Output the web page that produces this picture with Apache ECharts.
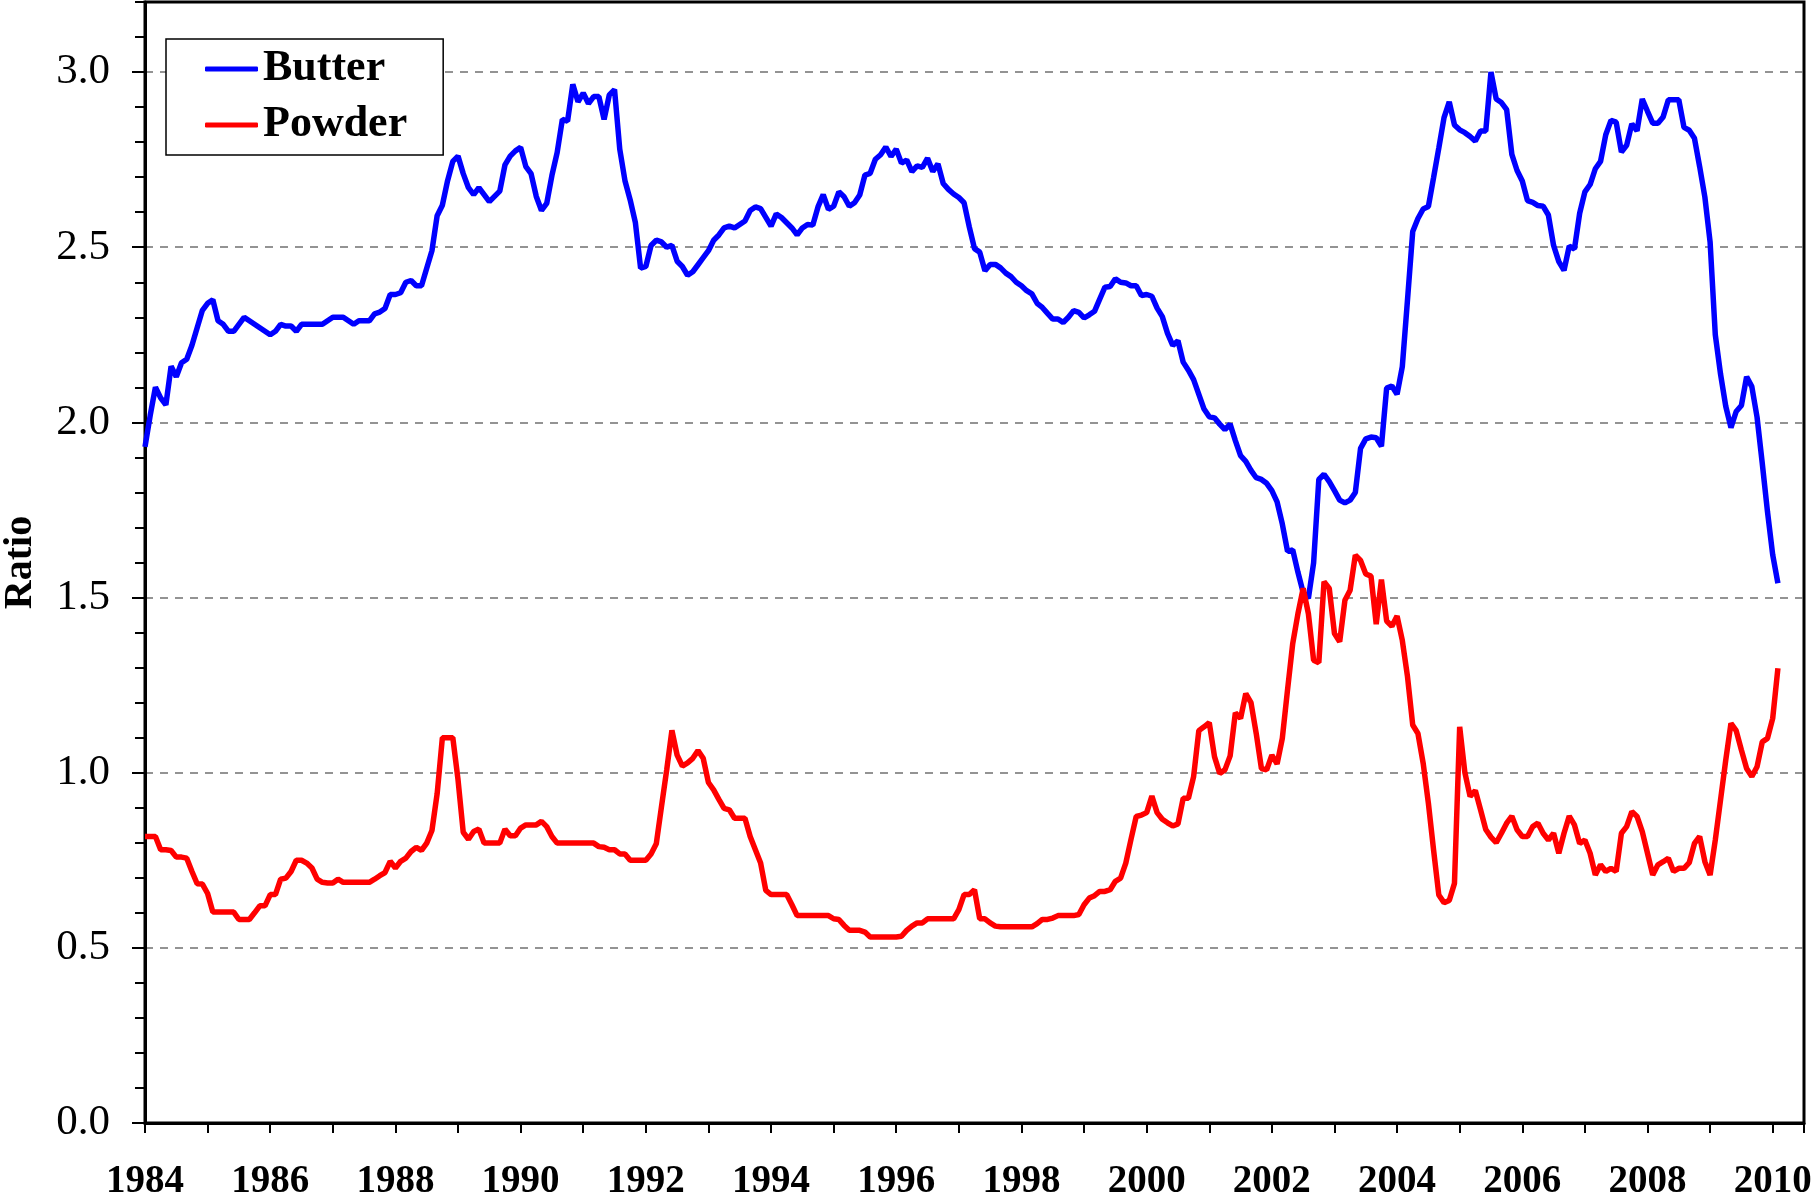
<!DOCTYPE html>
<html>
<head>
<meta charset="utf-8">
<title>Butter / Powder ratio</title>
<script src="https://cdn.jsdelivr.net/npm/echarts@6/dist/echarts.min.js"></script>
<style>
  html, body { margin: 0; padding: 0; background: #fff; }
  #main { width: 1812px; height: 1199px; }
</style>
</head>
<body>
<div id="main"></div>
<script>
// monthly series, first point = Jan 1984
const startYear = 1984;
const labelYears = [1984, 1986, 1988, 1990, 1992, 1994, 1996, 1998, 2000, 2002, 2004, 2006, 2008, 2010];

const butter = [
  1.93, 2.02, 2.10, 2.07, 2.05, 2.16, 2.13, 2.17, 2.18, 2.22, 2.27, 2.32,
  2.34, 2.35, 2.29, 2.28, 2.26, 2.26, 2.28, 2.30, 2.29, 2.28, 2.27, 2.26,
  2.25, 2.26, 2.28, 2.275, 2.275, 2.26, 2.28, 2.28, 2.28, 2.28, 2.28, 2.29,
  2.30, 2.30, 2.30, 2.29, 2.28, 2.29, 2.29, 2.29, 2.31, 2.315, 2.325, 2.365,
  2.365, 2.37, 2.40, 2.405, 2.39, 2.39, 2.44, 2.49, 2.59, 2.62, 2.69, 2.745,
  2.76, 2.71, 2.67, 2.65, 2.67, 2.65, 2.63, 2.645, 2.66, 2.735, 2.76, 2.775,
  2.785, 2.73, 2.71, 2.645, 2.605, 2.625, 2.705, 2.77, 2.865, 2.86, 2.965, 2.915,
  2.94, 2.91, 2.93, 2.93, 2.865, 2.935, 2.95, 2.78, 2.69, 2.635, 2.57, 2.44,
  2.445, 2.505, 2.52, 2.515, 2.50, 2.505, 2.46, 2.445, 2.42, 2.43, 2.45, 2.47,
  2.49, 2.52, 2.535, 2.555, 2.56, 2.555, 2.565, 2.575, 2.605, 2.615, 2.61, 2.585,
  2.56, 2.595, 2.585, 2.57, 2.555, 2.535, 2.555, 2.565, 2.563, 2.615, 2.65, 2.608,
  2.617, 2.658, 2.644, 2.617, 2.627, 2.649, 2.706, 2.711, 2.751, 2.764, 2.786, 2.759,
  2.78, 2.74, 2.749, 2.716, 2.732, 2.728, 2.754, 2.716, 2.738, 2.682, 2.665, 2.652,
  2.642, 2.627, 2.558, 2.496, 2.486, 2.433, 2.451, 2.451, 2.441, 2.426, 2.416, 2.40,
  2.39, 2.376, 2.367, 2.34, 2.328, 2.311, 2.295, 2.295, 2.285, 2.30, 2.319, 2.314,
  2.298, 2.307, 2.317, 2.352, 2.386, 2.388, 2.41, 2.40, 2.398, 2.39, 2.39, 2.362,
  2.365, 2.36, 2.326, 2.302, 2.254, 2.22, 2.233, 2.172, 2.149, 2.122, 2.08, 2.038,
  2.016, 2.013, 1.995, 1.979, 1.995, 1.948, 1.905, 1.889, 1.863, 1.842, 1.837, 1.826,
  1.805, 1.773, 1.71, 1.632, 1.636, 1.572, 1.514, 1.498, 1.599, 1.837, 1.852, 1.831,
  1.805, 1.778, 1.77, 1.778, 1.80, 1.926, 1.953, 1.958, 1.956, 1.932, 2.098, 2.104,
  2.08, 2.159, 2.35, 2.545, 2.582, 2.609, 2.616, 2.699, 2.783, 2.87, 2.915, 2.849,
  2.835, 2.827, 2.816, 2.803, 2.832, 2.832, 3.0, 2.923, 2.913, 2.893, 2.765, 2.719,
  2.689, 2.633, 2.628, 2.619, 2.617, 2.592, 2.505, 2.459, 2.434, 2.503, 2.495, 2.597,
  2.658, 2.679, 2.724, 2.745, 2.821, 2.862, 2.857, 2.772, 2.791, 2.852, 2.832, 2.923,
  2.888, 2.854, 2.854, 2.872, 2.921, 2.921, 2.921, 2.842, 2.834, 2.811, 2.73, 2.643,
  2.515, 2.25, 2.138, 2.046, 1.985, 2.031, 2.048, 2.13, 2.102, 2.015, 1.883, 1.745,
  1.622, 1.541
];

const powder = [
  0.818, 0.818, 0.818, 0.78, 0.78, 0.778, 0.759, 0.759, 0.756, 0.718, 0.683, 0.682,
  0.655, 0.602, 0.602, 0.602, 0.602, 0.602, 0.581, 0.581, 0.581, 0.60, 0.62, 0.62,
  0.652, 0.652, 0.696, 0.699, 0.718, 0.75, 0.75, 0.742, 0.728, 0.696, 0.687, 0.685,
  0.685, 0.696, 0.687, 0.687, 0.687, 0.687, 0.687, 0.687, 0.696, 0.706, 0.715, 0.747,
  0.728, 0.747, 0.756, 0.775, 0.787, 0.778, 0.799, 0.835, 0.94, 1.10, 1.10, 1.10,
  0.98, 0.83, 0.81, 0.832, 0.839, 0.799, 0.799, 0.799, 0.799, 0.839, 0.82, 0.82,
  0.842, 0.851, 0.851, 0.851, 0.861, 0.846, 0.818, 0.799, 0.799, 0.799, 0.799, 0.799,
  0.799, 0.799, 0.799, 0.789, 0.787, 0.78, 0.78, 0.768, 0.768, 0.75, 0.75, 0.75,
  0.75, 0.768, 0.797, 0.903, 1.008, 1.121, 1.05, 1.019, 1.028, 1.041, 1.063, 1.041,
  0.972, 0.951, 0.924, 0.898, 0.894, 0.87, 0.87, 0.87, 0.818, 0.78, 0.742, 0.664,
  0.652, 0.652, 0.652, 0.652, 0.623, 0.592, 0.592, 0.592, 0.592, 0.592, 0.592, 0.592,
  0.583, 0.581, 0.564, 0.55, 0.55, 0.55, 0.545, 0.531, 0.531, 0.531, 0.531, 0.531,
  0.531, 0.533, 0.55, 0.562, 0.571, 0.571, 0.583, 0.583, 0.583, 0.583, 0.583, 0.583,
  0.609, 0.652, 0.652, 0.666, 0.583, 0.583, 0.571, 0.562, 0.56, 0.56, 0.56, 0.56,
  0.56, 0.56, 0.56, 0.569, 0.581, 0.581, 0.585, 0.592, 0.592, 0.592, 0.592, 0.595,
  0.623, 0.642, 0.649, 0.661, 0.661, 0.666, 0.69, 0.699, 0.742, 0.81, 0.875, 0.879,
  0.886, 0.933, 0.886, 0.867, 0.857, 0.848, 0.854, 0.927, 0.927, 0.989, 1.12, 1.131,
  1.143, 1.046, 0.998, 1.008, 1.048, 1.171, 1.155, 1.226, 1.20, 1.112, 1.012, 1.008,
  1.05, 1.025, 1.098, 1.236, 1.369, 1.454, 1.526, 1.454, 1.321, 1.314, 1.545, 1.526,
  1.397, 1.374, 1.492, 1.521, 1.621, 1.606, 1.567, 1.561, 1.424, 1.551, 1.433, 1.418,
  1.447, 1.378, 1.274, 1.136, 1.112, 1.027, 0.913, 0.779, 0.651, 0.629, 0.635, 0.684,
  1.131, 1.0, 0.932, 0.949, 0.894, 0.838, 0.816, 0.80, 0.827, 0.856, 0.876, 0.837,
  0.818, 0.818, 0.846, 0.856, 0.827, 0.808, 0.827, 0.77, 0.827, 0.876, 0.851, 0.798,
  0.808, 0.77, 0.708, 0.737, 0.718, 0.727, 0.718, 0.827, 0.846, 0.889, 0.875, 0.832,
  0.77, 0.708, 0.737, 0.746, 0.756, 0.718, 0.727, 0.727, 0.743, 0.798, 0.818, 0.746,
  0.708, 0.808, 0.922, 1.036, 1.141, 1.12, 1.065, 1.012, 0.989, 1.017, 1.088, 1.098,
  1.155, 1.298
];

const serif = "'Liberation Serif', 'Times New Roman', serif";

// month i -> decimal year
function toPoints(values) {
  return values.map((v, i) => [startYear + i / 12, v]);
}

const chart = echarts.init(document.getElementById('main'));
chart.setOption({
  animation: false,
  backgroundColor: '#fff',
  grid: {
    left: 145,
    right: 8,
    top: 2,
    bottom: 76,
    outerBoundsMode: 'none',
    show: true,
    borderColor: '#000',
    borderWidth: 3,
    backgroundColor: 'transparent'
  },
  legend: {
    data: ['Butter', 'Powder'],
    orient: 'vertical',
    left: 166,
    top: 39,
    padding: [8, 36, 8, 39],
    icon: 'roundRect',
    itemWidth: 53,
    itemHeight: 5,
    itemGap: 12,
    borderColor: '#000',
    borderWidth: 1.5,
    backgroundColor: '#fff',
    textStyle: {
      fontFamily: serif,
      fontWeight: 'bold',
      fontSize: 44,
      color: '#000'
    }
  },
  xAxis: {
    type: 'value',
    min: 1984,
    max: 2010.5,
    interval: 1,
    axisLine: { lineStyle: { color: '#000', width: 3 } },
    axisTick: { length: 10, lineStyle: { color: '#000', width: 2 } },
    axisLabel: {
      margin: 39,
      fontFamily: serif,
      fontWeight: 'bold',
      fontSize: 39,
      color: '#000',
      formatter: function (v) {
        return labelYears.indexOf(Math.round(v * 100) / 100) >= 0 ? String(v) : '';
      }
    },
    splitLine: { show: false }
  },
  yAxis: [
    {
      // minor ticks every 0.1
      type: 'value',
      position: 'left',
      min: 0,
      max: 3.2,
      interval: 0.1,
      axisLine: { show: true, lineStyle: { color: '#000', width: 3 } },
      axisTick: { show: true, length: 10, lineStyle: { color: '#000', width: 2 } },
      axisLabel: { show: false },
      splitLine: { show: false }
    },
    {
      // labelled ticks and dashed grid every 0.5
      type: 'value',
      position: 'left',
      min: 0,
      max: 3.2,
      interval: 0.5,
      name: 'Ratio',
      nameLocation: 'middle',
      nameGap: 104,
      nameTextStyle: {
        fontFamily: serif,
        fontWeight: 'bold',
        fontSize: 40,
        color: '#000'
      },
      axisLine: { show: false },
      axisTick: { show: true, length: 13, lineStyle: { color: '#000', width: 2 } },
      axisLabel: {
        margin: 35,
        fontFamily: serif,
        fontSize: 43,
        color: '#000',
        showMaxLabel: false,
        formatter: function (v) { return v.toFixed(1); }
      },
      splitLine: {
        show: true,
        showMinLine: false,
        showMaxLine: false,
        lineStyle: { color: '#707070', width: 1.5, type: [8, 7] }
      }
    }
  ],
  series: [
    {
      name: 'Butter',
      type: 'line',
      yAxisIndex: 0,
      symbol: 'none',
      color: '#0000ff',
      lineStyle: { color: '#0000ff', width: 5.5 },
      data: toPoints(butter)
    },
    {
      name: 'Powder',
      type: 'line',
      yAxisIndex: 0,
      symbol: 'none',
      color: '#ff0000',
      lineStyle: { color: '#ff0000', width: 5.5 },
      data: toPoints(powder)
    }
  ]
});
</script>
</body>
</html>
